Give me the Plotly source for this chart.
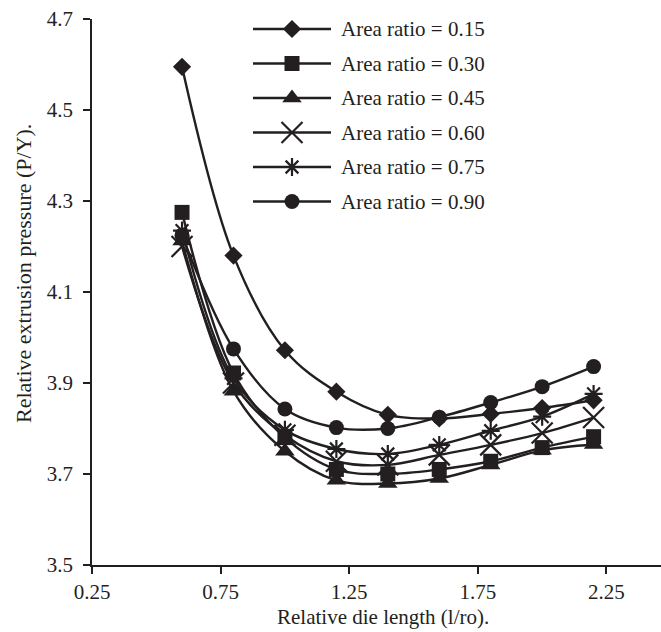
import plotly.graph_objects as go

# Relative die length (l/ro)
die_length = [0.6, 0.8, 1.0, 1.2, 1.4, 1.6, 1.8, 2.0, 2.2]

# Relative extrusion pressure (P/Y) for each area ratio
p_015 = [4.595, 4.18, 3.972, 3.881, 3.83, 3.822, 3.832, 3.845, 3.862]
p_030 = [4.275, 3.922, 3.78, 3.71, 3.70, 3.71, 3.728, 3.758, 3.782]
p_045 = [4.212, 3.882, 3.75, 3.686, 3.679, 3.69, 3.72, 3.752, 3.765]
p_060 = [4.20, 3.90, 3.785, 3.728, 3.72, 3.742, 3.764, 3.79, 3.824]
p_075 = [4.235, 3.91, 3.797, 3.755, 3.744, 3.764, 3.795, 3.826, 3.876]
p_090 = [4.225, 3.975, 3.843, 3.802, 3.80, 3.825, 3.857, 3.892, 3.936]

series_names = ["Area ratio = 0.15", "Area ratio = 0.30", "Area ratio = 0.45",
                "Area ratio = 0.60", "Area ratio = 0.75", "Area ratio = 0.90"]
series_values = [p_015, p_030, p_045, p_060, p_075, p_090]

x_tick_vals = [0.25, 0.75, 1.25, 1.75, 2.25]
x_tick_text = ["0.25", "0.75", "1.25", "1.75", "2.25"]
y_tick_vals = [3.5, 3.7, 3.9, 4.1, 4.3, 4.5, 4.7]
y_tick_text = ["3.5", "3.7", "3.9", "4.1", "4.3", "4.5", "4.7"]

INK = "#231f20"
FONT = "Liberation Serif, Times New Roman, serif"

# marker styles: (symbol, size, filled)
styles = [
    ("diamond", 14, True),
    ("square", 15, True),
    ("triangle-up", 17, True),
    ("x-thin", 21, False),
    ("asterisk-open", 15, False),
    ("circle", 15, True),
]


def marker_for(symbol, size, filled):
    if filled:
        return dict(symbol=symbol, size=size, color=INK, line=dict(width=0))
    return dict(symbol=symbol, size=size, color=INK, line=dict(width=2.2, color=INK))


fig = go.Figure()

for name, vals, (sym, size, filled) in zip(series_names, series_values, styles):
    fig.add_trace(go.Scatter(
        x=die_length, y=vals, name=name, mode="lines+markers",
        line=dict(color=INK, width=2.4, shape="spline", smoothing=1.0),
        marker=marker_for(sym, size, filled),
        showlegend=False, cliponaxis=False,
    ))

# key drawn on a pixel-scaled overlay axis pair
key_x0, key_xm, key_x1 = 253, 292, 331
key_rows = [29, 63.5, 98, 132.5, 167, 201.5]
for name, y, (sym, size, filled) in zip(series_names, key_rows, styles):
    fig.add_trace(go.Scatter(
        x=[key_x0, key_x1], y=[y, y], mode="lines", xaxis="x2", yaxis="y2",
        line=dict(color=INK, width=2.4), showlegend=False, hoverinfo="skip",
    ))
    fig.add_trace(go.Scatter(
        x=[key_xm], y=[y], mode="markers", xaxis="x2", yaxis="y2",
        marker=marker_for(sym, size, filled), showlegend=False, hoverinfo="skip",
    ))
    fig.add_annotation(
        x=339, y=y, xref="x2", yref="y2", text=name, showarrow=False,
        xanchor="left", yanchor="middle", font=dict(family=FONT, size=21, color=INK),
    )

axis_common = dict(
    showgrid=False, zeroline=False, showline=True, linecolor=INK, linewidth=1.5,
    ticks="outside", ticklen=7, tickwidth=1.5, tickcolor=INK,
    tickfont=dict(family=FONT, size=21, color=INK),
)

fig.update_layout(
    width=661, height=632,
    margin=dict(l=92, r=0, t=19, b=67),
    paper_bgcolor="white", plot_bgcolor="white",
    showlegend=False,
    xaxis=dict(range=[0.25, 2.462], tickvals=x_tick_vals, ticktext=x_tick_text,
               **axis_common),
    yaxis=dict(range=[3.5, 4.7], tickvals=y_tick_vals, ticktext=y_tick_text,
               ticklabelstandoff=6, **axis_common),
    xaxis2=dict(overlaying="x", range=[92, 661], visible=False, fixedrange=True),
    yaxis2=dict(overlaying="y", range=[565, 19], visible=False, fixedrange=True),
)

fig.add_annotation(
    x=(382.5 - 92) / 569, y=(565 - 617) / 546, xref="paper", yref="paper",
    text="Relative die length (l/ro).", showarrow=False,
    xanchor="center", yanchor="middle", font=dict(family=FONT, size=21, color=INK),
)
fig.add_annotation(
    x=(23 - 92) / 569, y=(565 - 274) / 546, xref="paper", yref="paper",
    text="Relative extrusion pressure (P/Y).", showarrow=False, textangle=-90,
    xanchor="center", yanchor="middle", font=dict(family=FONT, size=22, color=INK),
)

fig.write_html("out.html")
